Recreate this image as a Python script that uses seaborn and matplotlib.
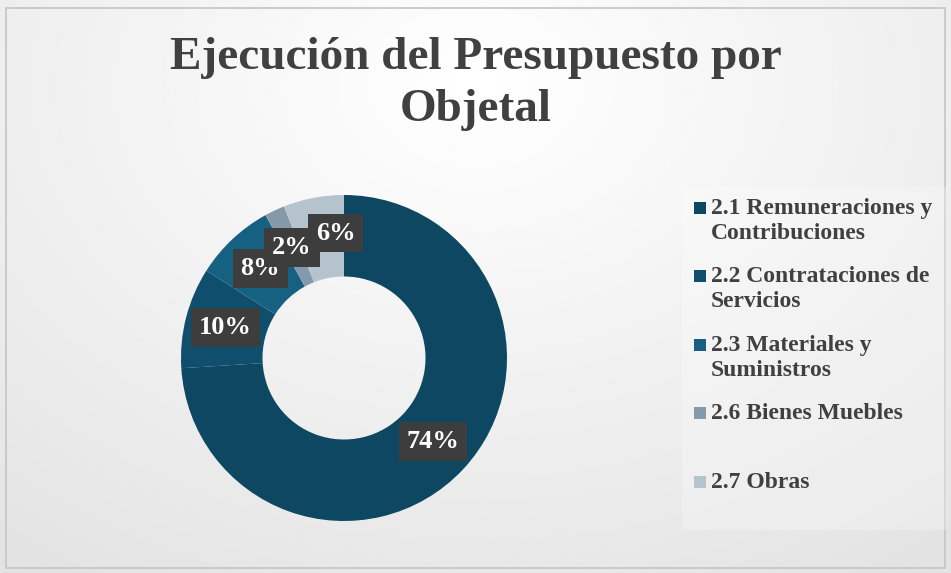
import numpy as np
import matplotlib
matplotlib.use("Agg")
import matplotlib.pyplot as plt
from matplotlib.patches import Rectangle
import seaborn as sns

# data
categories = ["2.1 Remuneraciones y\nContribuciones",
              "2.2 Contrataciones de\nServicios",
              "2.3 Materiales y\nSuministros",
              "2.6 Bienes Muebles",
              "2.7 Obras"]
shares = [74, 10, 8, 2, 6]
colors = ["#0d4762", "#0f4e6d", "#166082", "#8499aa", "#b5c3cd"]

sns.set_theme(style="white")
plt.rcParams['font.family'] = ['Liberation Serif', 'DejaVu Serif']
text_col = "#404040"

fig = plt.figure(figsize=(9.51, 5.73), dpi=100)

# soft gray background with lighter centre-top
bg = fig.add_axes([0, 0, 1, 1], zorder=-10)
yy, xx = np.mgrid[0:1:200j, 0:1:300j]
d = np.sqrt(((xx - 0.5) * 1.1) ** 2 + ((yy - 0.15) * 0.9) ** 2)
bg.imshow(1 - 0.12 * np.clip(d, 0, 1), cmap="gray", vmin=0, vmax=1,
          extent=[0, 1, 0, 1], aspect="auto", origin="upper")
bg.set_axis_off()
fig.patches.append(Rectangle((0.006, 0.008), 0.988, 0.978, transform=fig.transFigure,
                             fill=False, edgecolor="#c4c4c4", lw=1.2))

fig.text(0.5, 1 - 84 / 573, "Ejecución del Presupuesto por\nObjetal", ha="center", va="center",
         fontsize=34, fontweight="bold", color=text_col, linespacing=1.3)

# donut
cx, cy, r = 344, 358, 163
W, H = 951, 573
ax = fig.add_axes([(cx - r) / W, (H - cy - r) / H, 2 * r / W, 2 * r / H])
wedges, _, autotexts = ax.pie(shares, colors=colors, startangle=90, counterclock=False,
                              radius=1, autopct="%d%%", pctdistance=0.75,
                              wedgeprops=dict(width=0.5, edgecolor="none"))
for t in autotexts:
    t.set_color("white")
    t.set_fontsize(19)
    t.set_fontweight("bold")
    t.set_bbox(dict(boxstyle="square,pad=0.3", facecolor="#3d3d3d", edgecolor="none"))
# nudge the last small label off its neighbour
x6, y6 = autotexts[-1].get_position()
autotexts[-1].set_position((x6 + 0.09, y6 + 0.03))
ax.set_xlim(-1, 1)
ax.set_ylim(-1, 1)
ax.set_aspect("equal")
ax.set_axis_off()

# legend panel
fig.patches.append(Rectangle((682 / W, 1 - 530 / H), 265 / W, 343 / H, transform=fig.transFigure,
                             facecolor="white", alpha=0.25, edgecolor="none"))
tops = [208, 276, 345, 413, 482]
for lab, col, yt in zip(categories, colors, tops):
    fig.patches.append(Rectangle((694 / W, 1 - (yt + 6) / H), 12 / W, 12 / H,
                                 transform=fig.transFigure, facecolor=col, edgecolor="none"))
    fig.text(711 / W, 1 - (yt - 10) / H, lab, ha="left", va="top", fontsize=17,
             fontweight="bold", color=text_col, linespacing=1.25)

fig.savefig("out.png", dpi=100)
